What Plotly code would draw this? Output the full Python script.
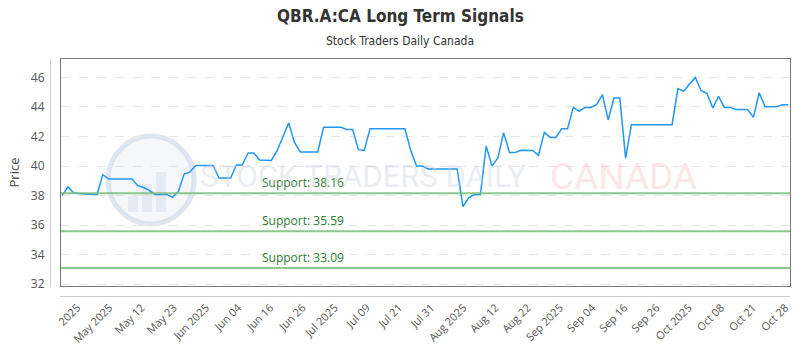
import plotly.graph_objects as go
import numpy as np

prices = [
    38.01, 38.58, 38.18, 38.15, 38.08, 38.08, 38.08, 39.41, 39.12, 39.12,
    39.12, 39.12, 39.12, 38.69, 38.55, 38.35, 38.08, 38.08, 38.08, 37.88,
    38.28, 39.46, 39.60, 40.04, 40.04, 40.04, 40.04, 39.19, 39.19, 39.19,
    40.07, 40.07, 40.88, 40.88, 40.41, 40.40, 40.38, 41.04, 42.01, 42.91,
    41.60, 40.95, 40.95, 40.95, 40.95, 42.62, 42.62, 42.62, 42.62, 42.48,
    42.48, 41.11, 41.06, 42.53, 42.53, 42.53, 42.53, 42.53, 42.53, 42.53,
    41.06, 40.00, 40.00, 39.80, 39.80, 39.80, 39.80, 39.80, 39.80, 37.25,
    37.86, 38.07, 38.07, 41.35, 39.99, 40.54, 42.26, 40.91, 40.91, 41.07,
    41.07, 41.06, 40.72, 42.28, 41.94, 41.94, 42.53, 42.53, 43.97, 43.70,
    43.97, 43.97, 44.15, 44.83, 43.12, 44.61, 44.61, 40.54, 42.80, 42.80,
    42.80, 42.80, 42.80, 42.80, 42.80, 42.80, 45.24, 45.05, 45.55, 46.00,
    45.10, 44.92, 43.93, 44.71, 43.97, 43.97, 43.83, 43.83, 43.83, 43.29,
    44.96, 44.02, 44.02, 44.02, 44.15, 44.15,
]
x_index = list(range(len(prices)))

tick_labels = [
    "2025", "May 2025", "May 12", "May 23", "Jun 2025", "Jun 04", "Jun 16",
    "Jun 26", "Jul 2025", "Jul 09", "Jul 21", "Jul 31", "Aug 2025", "Aug 12",
    "Aug 22", "Sep 2025", "Sep 04", "Sep 16", "Sep 26", "Oct 2025", "Oct 08",
    "Oct 21", "Oct 28",
]
tick_positions = list(np.linspace(2.6, 124.5, len(tick_labels)))

support_levels = [38.16, 35.59, 33.09]
support_labels = ["Support: 38.16", "Support: 35.59", "Support: 33.09"]

y_ticks = [32, 34, 36, 38, 40, 42, 44, 46]

L, R, T, B = 61, 790, 59, 286
PW, PH = R - L, B - T


def px(x):
    return (x - L) / PW


def py(y):
    return (B - y) / PH


fig = go.Figure()

# watermark logo
fig.add_shape(type="circle", xref="paper", yref="paper",
              x0=px(108), x1=px(194), y0=py(224), y1=py(136),
              line=dict(color="rgba(200,212,228,0.55)", width=5),
              fillcolor="rgba(225,232,242,0.35)", layer="below")
for bx0, bx1, by0 in [(128, 138, 196), (142, 152, 184), (156, 166, 172)]:
    fig.add_shape(type="rect", xref="paper", yref="paper",
                  x0=px(bx0), x1=px(bx1), y0=py(212), y1=py(by0),
                  line=dict(width=0), fillcolor="rgba(200,210,225,0.35)", layer="below")

fig.add_trace(go.Scatter(
    x=x_index, y=prices, mode="lines",
    line=dict(color="#2196F3", width=1.5),
    hoverinfo="skip", showlegend=False,
))

for lvl, lab in zip(support_levels, support_labels):
    fig.add_shape(type="line", xref="paper", yref="y", x0=0, x1=1, y0=lvl, y1=lvl,
                  line=dict(color="rgba(120,190,120,0.85)", width=2))
    fig.add_annotation(xref="paper", yref="y", x=px(260), y=lvl,
                       text=lab, showarrow=False, xanchor="left", yanchor="bottom",
                       yshift=0, font=dict(family="Open Sans", size=12, color="#2e7d32"))

# watermark text
fig.add_annotation(xref="paper", yref="paper", x=px(198), y=py(176),
                   text="STOCK TRADERS DAILY", showarrow=False,
                   xanchor="left", yanchor="middle",
                   font=dict(family="Roboto", size=31, color="rgba(200,208,220,0.4)"))
fig.add_annotation(xref="paper", yref="paper", x=px(548), y=py(176),
                   text="CANADA", showarrow=False,
                   xanchor="left", yanchor="middle",
                   font=dict(family="Roboto", size=37, color="rgba(245,170,170,0.3)"))

# title & subtitle
fig.add_annotation(xref="paper", yref="paper", x=px(400), y=py(16),
                   text="<b>QBR.A:CA Long Term Signals</b>", showarrow=False,
                   xanchor="center", yanchor="middle",
                   font=dict(family="Liberation Sans Narrow, DejaVu Sans Condensed, Roboto", size=17, color="#333"))
fig.add_annotation(xref="paper", yref="paper", x=px(400), y=py(41),
                   text="Stock Traders Daily Canada", showarrow=False,
                   xanchor="center", yanchor="middle",
                   font=dict(family="Liberation Sans Narrow, DejaVu Sans Condensed, Roboto", size=12, color="#333"))

# outer axis lines (offset)
fig.add_shape(type="line", xref="paper", yref="paper",
              x0=px(50.5), x1=px(50.5), y0=py(287), y1=py(59),
              line=dict(color="#cccccc", width=1))
fig.add_shape(type="line", xref="paper", yref="paper",
              x0=px(60), x1=px(790), y0=py(296.5), y1=py(296.5),
              line=dict(color="#cccccc", width=1))

fig.update_layout(
    width=800, height=350,
    margin=dict(l=L, r=800 - R, t=T, b=350 - B),
    paper_bgcolor="white", plot_bgcolor="white",
    font=dict(family="Open Sans", color="#555"),
    xaxis=dict(
        range=[-0.2, 125.3], tickmode="array", tickvals=tick_positions, ticktext=tick_labels,
        tickangle=-45, showgrid=False, zeroline=False, automargin=False,
        showline=True, mirror=True, linecolor="#777", linewidth=1,
        ticks="outside", ticklen=10, tickcolor="rgba(0,0,0,0)",
        tickfont=dict(family="Open Sans", size=11, color="#555"),
    ),
    yaxis=dict(
        range=[31.88, 47.245], tickmode="array", tickvals=y_ticks, automargin=False,
        showgrid=True, gridcolor="#e6e6e6", griddash="dash", gridwidth=1,
        zeroline=False, showline=True, mirror=True, linecolor="#777", linewidth=1,
        ticks="outside", ticklen=13, tickcolor="rgba(0,0,0,0)",
        tickfont=dict(family="Open Sans", size=12, color="#555"),
        title=dict(text="Price", font=dict(family="Open Sans", size=13, color="#444"), standoff=8),
    ),
)

fig.write_html("out.html")
